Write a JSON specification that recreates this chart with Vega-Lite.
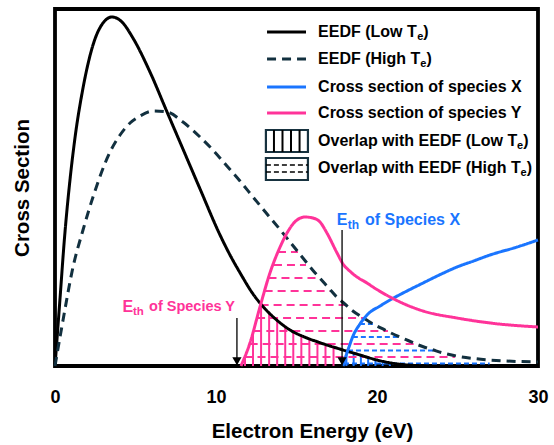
{
  "$schema": "https://vega.github.io/schema/vega-lite/v6.json",
  "width": 483,
  "height": 357,
  "autosize": {"type": "none"},
  "padding": {"left": 55, "top": 9, "right": 16, "bottom": 79},
  "config": {
    "view": {"stroke": "black", "strokeWidth": 3.8},
    "font": "Liberation Sans",
    "axis": {"grid": false, "domain": false, "ticks": false, "labelFont": "Liberation Sans", "titleFont": "Liberation Sans", "labelFontWeight": "bold", "titleFontWeight": "bold", "labelColor": "black", "titleColor": "black"}
  },
  "datasets": {
    "curves": [
      {"s": "low", "x": 0, "y": 0}, {"s": "low", "x": 0.3, "y": 65}, {"s": "low", "x": 0.6, "y": 130}, {"s": "low", "x": 0.93, "y": 186}, {"s": "low", "x": 1.24, "y": 228}, {"s": "low", "x": 1.74, "y": 278}, {"s": "low", "x": 2.36, "y": 321}, {"s": "low", "x": 2.98, "y": 343}, {"s": "low", "x": 3.54, "y": 349}, {"s": "low", "x": 4.16, "y": 344}, {"s": "low", "x": 4.84, "y": 328}, {"s": "low", "x": 5.9, "y": 294}, {"s": "low", "x": 6.96, "y": 254}, {"s": "low", "x": 7.76, "y": 224}, {"s": "low", "x": 9.01, "y": 177}, {"s": "low", "x": 10.25, "y": 131}, {"s": "low", "x": 10.87, "y": 111}, {"s": "low", "x": 11.5, "y": 93}, {"s": "low", "x": 12.3, "y": 72}, {"s": "low", "x": 13.0, "y": 58}, {"s": "low", "x": 13.56, "y": 49}, {"s": "low", "x": 14.6, "y": 36}, {"s": "low", "x": 15.65, "y": 28}, {"s": "low", "x": 16.34, "y": 24}, {"s": "low", "x": 16.89, "y": 21}, {"s": "low", "x": 17.89, "y": 16}, {"s": "low", "x": 18.94, "y": 11}, {"s": "low", "x": 20.0, "y": 6}, {"s": "low", "x": 21.3, "y": 2}, {"s": "low", "x": 23.29, "y": 0},
      {"s": "high", "x": 0, "y": 0}, {"s": "high", "x": 0.5, "y": 46}, {"s": "high", "x": 1.12, "y": 99}, {"s": "high", "x": 1.74, "y": 136}, {"s": "high", "x": 2.36, "y": 169}, {"s": "high", "x": 3.42, "y": 214}, {"s": "high", "x": 4.04, "y": 231}, {"s": "high", "x": 4.66, "y": 243}, {"s": "high", "x": 5.28, "y": 250}, {"s": "high", "x": 6.09, "y": 255}, {"s": "high", "x": 6.96, "y": 254}, {"s": "high", "x": 7.95, "y": 244}, {"s": "high", "x": 9.01, "y": 229}, {"s": "high", "x": 9.81, "y": 216}, {"s": "high", "x": 10.68, "y": 200}, {"s": "high", "x": 11.49, "y": 185}, {"s": "high", "x": 12.3, "y": 169}, {"s": "high", "x": 13.17, "y": 152}, {"s": "high", "x": 14.0, "y": 136}, {"s": "high", "x": 14.5, "y": 126}, {"s": "high", "x": 15.0, "y": 116}, {"s": "high", "x": 15.5, "y": 106}, {"s": "high", "x": 16.0, "y": 96}, {"s": "high", "x": 16.5, "y": 87}, {"s": "high", "x": 17.0, "y": 78}, {"s": "high", "x": 17.5, "y": 69}, {"s": "high", "x": 18.0, "y": 62}, {"s": "high", "x": 18.5, "y": 55}, {"s": "high", "x": 19.0, "y": 49.5}, {"s": "high", "x": 19.5, "y": 44.5}, {"s": "high", "x": 20.0, "y": 40}, {"s": "high", "x": 20.5, "y": 36}, {"s": "high", "x": 21.0, "y": 32}, {"s": "high", "x": 21.5, "y": 28.5}, {"s": "high", "x": 22.0, "y": 25}, {"s": "high", "x": 22.5, "y": 21.5}, {"s": "high", "x": 23.0, "y": 18.5}, {"s": "high", "x": 23.5, "y": 16}, {"s": "high", "x": 24.0, "y": 13.5}, {"s": "high", "x": 24.5, "y": 11.5}, {"s": "high", "x": 25.0, "y": 9.8}, {"s": "high", "x": 26.0, "y": 7.5}, {"s": "high", "x": 27.0, "y": 6}, {"s": "high", "x": 28.0, "y": 5}, {"s": "high", "x": 30, "y": 4},
      {"s": "X", "x": 17.89, "y": 0}, {"s": "X", "x": 18.07, "y": 10}, {"s": "X", "x": 18.26, "y": 19}, {"s": "X", "x": 18.51, "y": 30}, {"s": "X", "x": 18.94, "y": 42}, {"s": "X", "x": 19.44, "y": 52}, {"s": "X", "x": 20.19, "y": 60}, {"s": "X", "x": 20.81, "y": 66}, {"s": "X", "x": 21.5, "y": 72}, {"s": "X", "x": 22.86, "y": 83}, {"s": "X", "x": 24.0, "y": 92}, {"s": "X", "x": 24.97, "y": 99}, {"s": "X", "x": 26.0, "y": 105}, {"s": "X", "x": 27.02, "y": 111}, {"s": "X", "x": 28.7, "y": 119}, {"s": "X", "x": 30, "y": 126},
      {"s": "Y", "x": 11.55, "y": 0}, {"s": "Y", "x": 12.11, "y": 23}, {"s": "Y", "x": 12.73, "y": 59}, {"s": "Y", "x": 13.35, "y": 93}, {"s": "Y", "x": 13.98, "y": 119}, {"s": "Y", "x": 14.41, "y": 133}, {"s": "Y", "x": 15.03, "y": 146}, {"s": "Y", "x": 15.53, "y": 149}, {"s": "Y", "x": 16.02, "y": 148}, {"s": "Y", "x": 16.46, "y": 144}, {"s": "Y", "x": 16.89, "y": 133}, {"s": "Y", "x": 17.52, "y": 113}, {"s": "Y", "x": 17.89, "y": 102}, {"s": "Y", "x": 18.3, "y": 95}, {"s": "Y", "x": 18.76, "y": 89}, {"s": "Y", "x": 19.38, "y": 83}, {"s": "Y", "x": 19.75, "y": 79}, {"s": "Y", "x": 20.81, "y": 69}, {"s": "Y", "x": 21.43, "y": 64}, {"s": "Y", "x": 22.86, "y": 55}, {"s": "Y", "x": 24.97, "y": 48}, {"s": "Y", "x": 27.02, "y": 43}, {"s": "Y", "x": 30, "y": 39}
    ],
    "vhY": [
      {"x": 11.8, "y": 10}, {"x": 12.3, "y": 34}, {"x": 12.8, "y": 62}, {"x": 13.3, "y": 54}, {"x": 13.8, "y": 46}, {"x": 14.3, "y": 40}, {"x": 14.8, "y": 34.5}, {"x": 15.3, "y": 31}, {"x": 15.8, "y": 27}, {"x": 16.3, "y": 24}, {"x": 16.8, "y": 21.5}, {"x": 17.3, "y": 18}
    ],
    "vhX": [
      {"x": 18.1, "y": 11.5}, {"x": 18.55, "y": 13.5}, {"x": 19.0, "y": 10.7}, {"x": 19.45, "y": 8.6}, {"x": 19.9, "y": 6.5}, {"x": 20.35, "y": 4.9}, {"x": 20.8, "y": 3.5}
    ],
    "hhY": [
      {"x1": 13.85, "x2": 15.09, "y": 114}, {"x1": 13.6, "x2": 15.59, "y": 101}, {"x1": 13.26, "x2": 16.4, "y": 88}, {"x1": 13.02, "x2": 17.08, "y": 75}, {"x1": 12.77, "x2": 18.01, "y": 61}, {"x1": 12.55, "x2": 19.19, "y": 48}, {"x1": 12.32, "x2": 20.68, "y": 35}, {"x1": 12.09, "x2": 22.3, "y": 22}, {"x1": 11.77, "x2": 24.84, "y": 9}
    ],
    "hhX": [
      {"x1": 18.94, "x2": 19.75, "y": 42}, {"x1": 18.5, "x2": 21.43, "y": 29}, {"x1": 18.2, "x2": 23.5, "y": 15.5}, {"x1": 17.95, "x2": 27.0, "y": 2.5}
    ],
    "arrows": [
      {"x": 11.3, "y": 48}, {"x": 17.83, "y": 136}
    ],
    "legLines": [
      {"s": "low", "x1": 13.17, "x2": 15.59, "y": 334}, {"s": "high", "x1": 13.17, "x2": 15.59, "y": 307}, {"s": "X", "x1": 13.17, "x2": 15.59, "y": 279}, {"s": "Y", "x1": 13.17, "x2": 15.59, "y": 253}
    ],
    "legBoxes": [
      {"x1": 13.1, "x2": 15.71, "y1": 214, "y2": 236}, {"x1": 13.1, "x2": 15.71, "y1": 186, "y2": 208}
    ],
    "legVH": [
      {"x": 13.6, "y1": 214, "y2": 236}, {"x": 14.13, "y1": 214, "y2": 236}, {"x": 14.66, "y1": 214, "y2": 236}, {"x": 15.19, "y1": 214, "y2": 236}
    ],
    "legHH": [
      {"x1": 13.1, "x2": 15.71, "y": 201}, {"x1": 13.1, "x2": 15.71, "y": 194}
    ],
    "legText": [
      {"t": "EEDF (Low T", "x": 16.34, "y": 334}, {"t": ")", "x": 22.88, "y": 334},
      {"t": "EEDF (High T", "x": 16.34, "y": 307}, {"t": ")", "x": 23.07, "y": 307},
      {"t": "Cross section of species X", "x": 16.34, "y": 279},
      {"t": "Cross section of species Y", "x": 16.34, "y": 253},
      {"t": "Overlap with EEDF (Low T", "x": 16.34, "y": 225}, {"t": ")", "x": 29.09, "y": 225},
      {"t": "Overlap with EEDF (High T", "x": 16.34, "y": 198}, {"t": ")", "x": 29.3, "y": 198}
    ],
    "legSub": [
      {"t": "e", "x": 22.5, "y": 334}, {"t": "e", "x": 22.68, "y": 307}, {"t": "e", "x": 28.7, "y": 225}, {"t": "e", "x": 28.92, "y": 198}
    ],
    "ethYbig": [
      {"t": "E", "x": 4.2, "y": 59}
    ],
    "ethY": [
      {"t": "of Species Y", "x": 5.84, "y": 59}
    ],
    "ethYsub": [
      {"t": "th", "x": 4.84, "y": 59}
    ],
    "ethX": [
      {"t": "E", "x": 17.5, "y": 146}, {"t": "of Species X", "x": 19.25, "y": 146}
    ],
    "ethXsub": [
      {"t": "th", "x": 18.19, "y": 146}
    ]
  },
  "layer": [
    {
      "data": {"name": "vhY"},
      "mark": {"type": "rule", "color": "#ff3399", "strokeWidth": 2},
      "encoding": {
        "x": {"field": "x", "type": "quantitative", "scale": {"domain": [0, 30], "nice": false, "zero": false}, "axis": {"values": [0, 10, 20, 30], "title": "Electron Energy (eV)", "labelFlush": false, "labelFontSize": 18, "labelPadding": 22, "titleFontSize": 20.5, "titlePadding": 15, "titleX": 257, "titleAlign": "center"}},
        "y": {"field": "y", "type": "quantitative", "scale": {"domain": [0, 357], "nice": false}, "axis": {"title": "Cross Section", "labels": false, "titleFontSize": 20.5, "titlePadding": 23}},
        "y2": {"datum": 0}
      }
    },
    {
      "data": {"name": "vhX"},
      "mark": {"type": "rule", "color": "#1a75ff", "strokeWidth": 2},
      "encoding": {
        "x": {"field": "x", "type": "quantitative"},
        "y": {"field": "y", "type": "quantitative"},
        "y2": {"datum": 0}
      }
    },
    {
      "data": {"name": "hhY"},
      "mark": {"type": "rule", "color": "#ff3399", "strokeWidth": 2, "strokeDash": [8, 5]},
      "encoding": {
        "x": {"field": "x1", "type": "quantitative"},
        "x2": {"field": "x2"},
        "y": {"field": "y", "type": "quantitative"}
      }
    },
    {
      "data": {"name": "hhX"},
      "mark": {"type": "rule", "color": "#1a75ff", "strokeWidth": 2, "strokeDash": [5, 3]},
      "encoding": {
        "x": {"field": "x1", "type": "quantitative"},
        "x2": {"field": "x2"},
        "y": {"field": "y", "type": "quantitative"}
      }
    },
    {
      "data": {"name": "curves"},
      "mark": {"type": "line", "strokeWidth": 3, "interpolate": "monotone"},
      "encoding": {
        "x": {"field": "x", "type": "quantitative"},
        "y": {"field": "y", "type": "quantitative"},
        "detail": {"field": "s"},
        "color": {"field": "s", "type": "nominal", "scale": {"domain": ["low", "high", "X", "Y"], "range": ["#000000", "#12303f", "#1a75ff", "#ff3399"]}, "legend": null},
        "strokeDash": {"field": "s", "type": "nominal", "scale": {"domain": ["low", "high", "X", "Y"], "range": [[1, 0], [9, 6], [1, 0], [1, 0]]}, "legend": null}
      }
    },
    {
      "data": {"name": "arrows"},
      "mark": {"type": "rule", "color": "black", "strokeWidth": 1.3},
      "encoding": {
        "x": {"field": "x", "type": "quantitative"},
        "y": {"field": "y", "type": "quantitative"},
        "y2": {"datum": 0}
      }
    },
    {
      "data": {"name": "arrows"},
      "mark": {"type": "point", "shape": "triangle-down", "filled": true, "color": "black", "size": 85, "opacity": 1},
      "encoding": {
        "x": {"field": "x", "type": "quantitative"},
        "y": {"datum": 4.8}
      }
    },
    {
      "data": {"name": "legLines"},
      "mark": {"type": "rule", "strokeWidth": 3},
      "encoding": {
        "x": {"field": "x1", "type": "quantitative"},
        "x2": {"field": "x2"},
        "y": {"field": "y", "type": "quantitative"},
        "color": {"field": "s", "type": "nominal", "legend": null},
        "strokeDash": {"field": "s", "type": "nominal", "legend": null}
      }
    },
    {
      "data": {"name": "legBoxes"},
      "mark": {"type": "rect", "fill": "white", "stroke": "#17323f", "strokeWidth": 2.2},
      "encoding": {
        "x": {"field": "x1", "type": "quantitative"},
        "x2": {"field": "x2"},
        "y": {"field": "y1", "type": "quantitative"},
        "y2": {"field": "y2"}
      }
    },
    {
      "data": {"name": "legVH"},
      "mark": {"type": "rule", "color": "#000000", "strokeWidth": 2},
      "encoding": {
        "x": {"field": "x", "type": "quantitative"},
        "y": {"field": "y1", "type": "quantitative"},
        "y2": {"field": "y2"}
      }
    },
    {
      "data": {"name": "legHH"},
      "mark": {"type": "rule", "color": "#000000", "strokeWidth": 1.6, "strokeDash": [5, 3]},
      "encoding": {
        "x": {"field": "x1", "type": "quantitative"},
        "x2": {"field": "x2"},
        "y": {"field": "y", "type": "quantitative"}
      }
    },
    {
      "data": {"name": "legText"},
      "mark": {"type": "text", "align": "left", "baseline": "middle", "font": "Liberation Sans", "fontWeight": "bold", "fontSize": 16, "color": "black"},
      "encoding": {
        "x": {"field": "x", "type": "quantitative"},
        "y": {"field": "y", "type": "quantitative"},
        "text": {"field": "t"}
      }
    },
    {
      "data": {"name": "legSub"},
      "mark": {"type": "text", "align": "left", "baseline": "middle", "font": "Liberation Sans", "fontWeight": "bold", "fontSize": 11, "dy": 5, "color": "black"},
      "encoding": {
        "x": {"field": "x", "type": "quantitative"},
        "y": {"field": "y", "type": "quantitative"},
        "text": {"field": "t"}
      }
    },
    {
      "data": {"name": "ethYbig"},
      "mark": {"type": "text", "align": "left", "baseline": "middle", "font": "Liberation Sans", "fontWeight": "bold", "fontSize": 16, "color": "#ff3399"},
      "encoding": {
        "x": {"field": "x", "type": "quantitative"},
        "y": {"field": "y", "type": "quantitative"},
        "text": {"field": "t"}
      }
    },
    {
      "data": {"name": "ethY"},
      "mark": {"type": "text", "align": "left", "baseline": "middle", "font": "Liberation Sans", "fontWeight": "bold", "fontSize": 14.5, "color": "#ff3399"},
      "encoding": {
        "x": {"field": "x", "type": "quantitative"},
        "y": {"field": "y", "type": "quantitative"},
        "text": {"field": "t"}
      }
    },
    {
      "data": {"name": "ethYsub"},
      "mark": {"type": "text", "align": "left", "baseline": "middle", "font": "Liberation Sans", "fontWeight": "bold", "fontSize": 11.5, "dy": 5, "color": "#ff3399"},
      "encoding": {
        "x": {"field": "x", "type": "quantitative"},
        "y": {"field": "y", "type": "quantitative"},
        "text": {"field": "t"}
      }
    },
    {
      "data": {"name": "ethX"},
      "mark": {"type": "text", "align": "left", "baseline": "middle", "font": "Liberation Sans", "fontWeight": "bold", "fontSize": 16, "color": "#1a75ff"},
      "encoding": {
        "x": {"field": "x", "type": "quantitative"},
        "y": {"field": "y", "type": "quantitative"},
        "text": {"field": "t"}
      }
    },
    {
      "data": {"name": "ethXsub"},
      "mark": {"type": "text", "align": "left", "baseline": "middle", "font": "Liberation Sans", "fontWeight": "bold", "fontSize": 12, "dy": 5, "color": "#1a75ff"},
      "encoding": {
        "x": {"field": "x", "type": "quantitative"},
        "y": {"field": "y", "type": "quantitative"},
        "text": {"field": "t"}
      }
    }
  ]
}
